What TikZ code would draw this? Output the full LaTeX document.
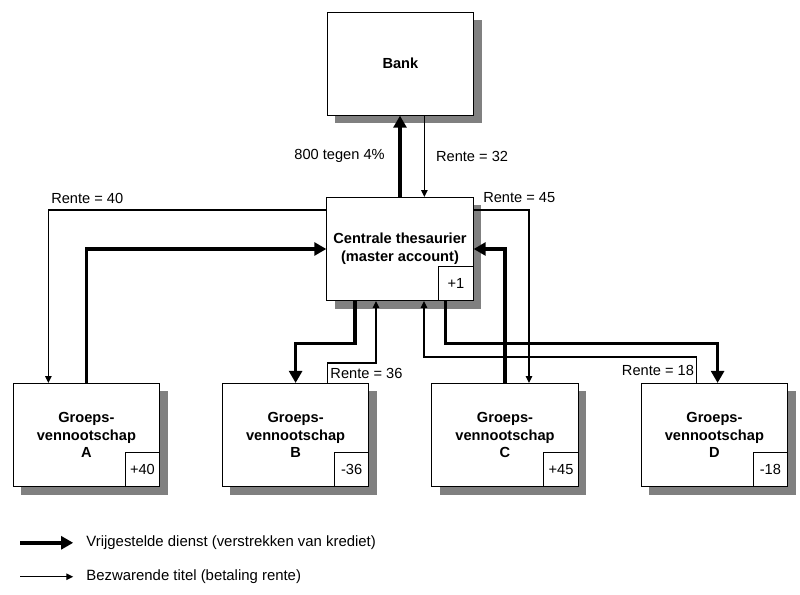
\documentclass[tikz,border=0pt]{standalone}
\usepackage{fontspec}
\setmainfont{Liberation Sans}
\usetikzlibrary{arrows.meta,shadows}
\begin{document}
\begin{tikzpicture}[box/.style={draw,fill=white,line width=0.6pt,minimum width=3.66cm,minimum height=2.58cm,align=center,font=\fontsize{10.4}{12.7}\selectfont\bfseries,drop shadow={shadow xshift=0.2cm,shadow yshift=-0.2cm,fill=gray,opacity=1}},
val/.style={draw,fill=white,line width=0.6pt,minimum width=0.86cm,minimum height=0.86cm,anchor=south east,font=\fontsize{10.4}{12}\selectfont},
lbl/.style={font=\fontsize{10.4}{12}\selectfont,inner sep=1pt},
kred/.style={line width=2.6pt,-{Triangle[length=0.3cm,width=0.32cm]}},
rente/.style={line width=0.8pt,-{Triangle[length=0.17cm,width=0.16cm]}}]
\useasboundingbox (0,0) rectangle (20,-14.875);
\node[box] (bank) at (10.01,-1.59) {Bank};
\node[box] (cen) at (10,-6.225) {Centrale thesaurier\\(master account)};
\node[box] (ga) at (2.16,-10.875) {Groeps-\\vennootschap\\A};
\node[box] (gb) at (7.39,-10.875) {Groeps-\\vennootschap\\B};
\node[box] (gc) at (12.625,-10.875) {Groeps-\\vennootschap\\C};
\node[box] (gd) at (17.86,-10.875) {Groeps-\\vennootschap\\D};
\node[val] (vc) at (cen.south east) {+1};
\node[val] (va) at (ga.south east) {+40};
\node[val] (vb) at (gb.south east) {-36};
\node[val] (vcc) at (gc.south east) {+45};
\node[val] (vd) at (gd.south east) {-18};
\node[lbl,anchor=east] (l800) at (9.66,-3.9) {800 tegen 4\%};
\node[lbl,anchor=west] (l32) at (10.86,-3.9) {Rente = 32};
\node[lbl,anchor=west] (l40) at (1.24,-4.95) {Rente = 40};
\node[lbl,anchor=west] (l45) at (12.04,-4.94) {Rente = 45};
\node[lbl,anchor=west] (l36) at (8.22,-9.33) {Rente = 36};
\node[lbl,anchor=east] (l18) at (17.39,-9.25) {Rente = 18};
\draw[kred] (cen.north) -- (cen.north |- bank.south);
\draw[rente] ([xshift=0.6cm]bank.south) -- ([xshift=0.6cm]bank.south |- cen.north);
\draw[rente] ([yshift=-0.325cm]cen.north west) -| ([xshift=-0.95cm]ga.north);
\draw[kred] (ga.north) |- (cen.west);
\draw[rente] ([yshift=-0.325cm]cen.north east) -| ([xshift=0.6cm]gc.north);
\draw[kred] ([xshift=-1.125cm]cen.south) -- ++(0,-1.06) -| (gb.north);
\draw[rente] ([xshift=0.79cm]gb.north) -- ++(0,0.5) -| ([xshift=-0.6cm]cen.south);
\draw[kred] ([xshift=1.14cm]cen.south) -- ++(0,-1.06) -| ([xshift=0.08cm]gd.north);
\draw[rente] ([xshift=-0.44cm]gd.north) -- ++(0,0.65) -| ([xshift=0.6cm]cen.south);
\draw[kred] (gc.north) |- (cen.east);
\coordinate (k0) at (0.5,-13.57);
\node[lbl,anchor=west,font=\fontsize{10.6}{12}\selectfont] (kt) at (2.12,-13.57) {Vrijgestelde dienst (verstrekken van krediet)};
\draw[kred] (k0) -- ([xshift=-0.29cm]kt.west);
\coordinate (r0) at (0.5,-14.42);
\node[lbl,anchor=west,font=\fontsize{10.6}{12}\selectfont] (rt) at (2.12,-14.42) {Bezwarende titel (betaling rente)};
\draw[rente] (r0) -- ([xshift=-0.29cm]rt.west);
\end{tikzpicture}
\end{document}
